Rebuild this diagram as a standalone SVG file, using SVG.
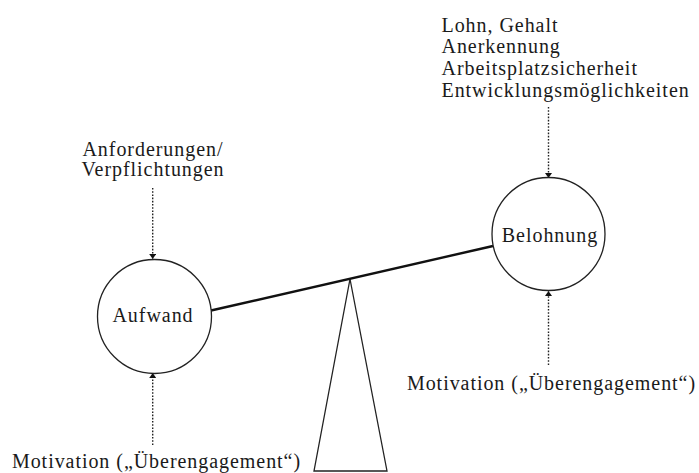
<svg xmlns="http://www.w3.org/2000/svg" width="699" height="473" viewBox="0 0 699 473">
<style>
text{font-family:"Liberation Serif","Times New Roman",serif;font-size:20px;letter-spacing:0.95px;fill:#1a1a1a}
.c{text-anchor:middle}
.node{fill:#fff;stroke:#222;stroke-width:1.3}
.dot{stroke:#222;stroke-width:1.4;stroke-dasharray:1.6 1.6;fill:none}
.beam{stroke:#111;stroke-width:2.4;fill:none}
.tri{fill:#fff;stroke:#222;stroke-width:1.3}
</style>
<defs>
<marker id="ah" viewBox="0 0 10 10" refX="10" refY="5" markerWidth="5" markerHeight="7" markerUnits="userSpaceOnUse" orient="auto" preserveAspectRatio="none">
<path d="M0,0 L10,5 L0,10 z" fill="#111"/>
</marker>
</defs>
<rect width="699" height="473" fill="#fff"/>
<g id="fulcrum">
<polygon class="tri" points="350,279 314,471 387,471"/>
</g>
<g id="connectors">
<line class="beam" x1="211" y1="310.5" x2="493" y2="246"/>
<line class="dot" x1="152.7" y1="188" x2="152.7" y2="259" marker-end="url(#ah)"/>
<line class="dot" x1="152.7" y1="445" x2="152.7" y2="373" marker-end="url(#ah)"/>
<line class="dot" x1="548.5" y1="107" x2="548.5" y2="178" marker-end="url(#ah)"/>
<line class="dot" x1="548.5" y1="365" x2="548.5" y2="291" marker-end="url(#ah)"/>
</g>
<g id="aufwand">
<circle class="node" cx="154.5" cy="316.5" r="57"/>
<text class="c" x="153" y="322">Aufwand</text>
</g>
<g id="belohnung">
<circle class="node" cx="548.5" cy="234" r="56.5"/>
<text class="c" x="550" y="242">Belohnung</text>
</g>
<g id="anforderungen">
<text class="c" x="153" y="155.5">Anforderungen/</text>
<text class="c" x="153" y="176">Verpflichtungen</text>
</g>
<g id="motivation-left">
<text class="c" x="156.5" y="468">Motivation („Überengagement“)</text>
</g>
<g id="belohnung-items">
<text x="441.5" y="31.5">Lohn, Gehalt</text>
<text x="441.5" y="53">Anerkennung</text>
<text x="441.5" y="75">Arbeitsplatzsicherheit</text>
<text x="441.5" y="96.5">Entwicklungsmöglichkeiten</text>
</g>
<g id="motivation-right">
<text class="c" x="551.5" y="390">Motivation („Überengagement“)</text>
</g>
</svg>
